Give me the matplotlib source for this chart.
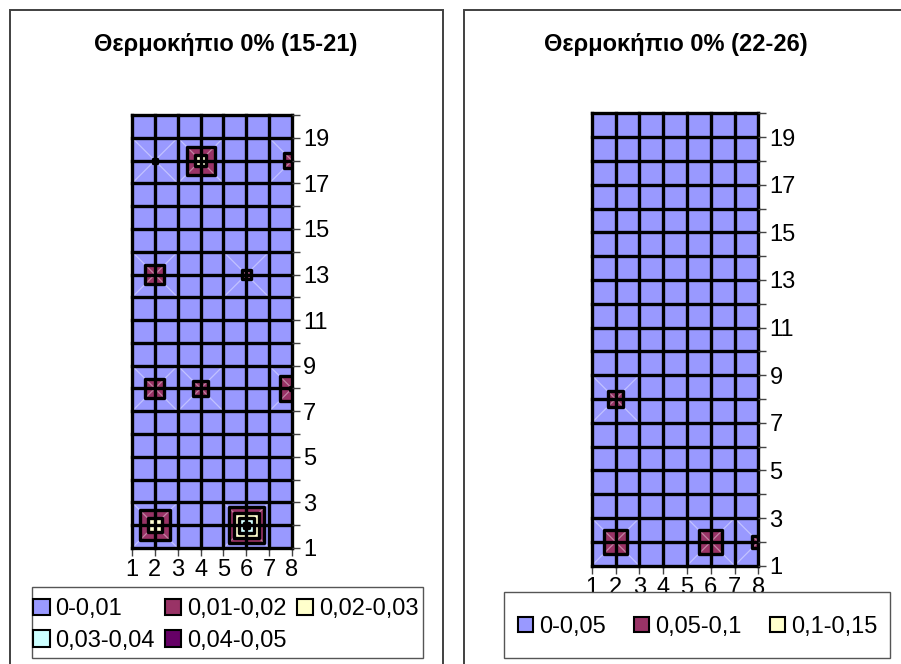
import numpy as np
import matplotlib
matplotlib.use('Agg')
import matplotlib.pyplot as plt
import matplotlib.tri as mtri
from matplotlib.collections import LineCollection
from matplotlib.patches import Rectangle, Patch

plt.rcParams['font.family'] = ['Liberation Sans', 'DejaVu Sans']

# grid of the surface (columns 1..8, rows 1..20)
x_vals = np.arange(1, 9)
y_vals = np.arange(1, 21)

# left chart: non-zero nodes, every other node is 0
left_x = [2, 4, 8, 2, 6, 2, 4, 8, 2, 6]
left_y = [18, 18, 18, 13, 13, 8, 8, 8, 2, 2]
left_v = [0.011, 0.026, 0.015, 0.017, 0.0125, 0.017, 0.015, 0.0215, 0.029, 0.045]
left_levels = [0, 0.01, 0.02, 0.03, 0.04, 0.05]
left_labels = ['0-0,01', '0,01-0,02', '0,02-0,03', '0,03-0,04', '0,04-0,05']

# right chart
right_x = [2, 2, 6, 8]
right_y = [8, 2, 2, 2]
right_v = [0.075, 0.098, 0.098, 0.068]
right_levels = [0, 0.05, 0.1, 0.15]
right_labels = ['0-0,05', '0,05-0,1', '0,1-0,15']

band_colors = ['#9999FF', '#993366', '#FFFFCC', '#CCFFFF', '#660066']

W, H = 901, 664


def grid_values(px, py, pv):
    z = np.zeros((len(y_vals), len(x_vals)))
    for a, b, v in zip(px, py, pv):
        z[b - 1, a - 1] = v
    return z


def excel_tri(z):
    # each cell split in two along the diagonal with the higher values
    ny, nx = z.shape
    X, Y = np.meshgrid(x_vals, y_vals)
    zf = z.ravel()
    tris, diags = [], []
    for j in range(ny - 1):
        for i in range(nx - 1):
            a = j * nx + i
            b = a + 1
            c = a + nx + 1
            d = a + nx
            if zf[a] + zf[c] >= zf[b] + zf[d]:
                tris += [[a, b, c], [a, c, d]]
                e = (a, c)
            else:
                tris += [[a, b, d], [b, c, d]]
                e = (b, d)
            if max(zf[a], zf[b], zf[c], zf[d]) > 0:
                diags.append(e)
    tri = mtri.Triangulation(X.ravel(), Y.ravel(), tris)
    segs = [[(tri.x[p], tri.y[p]), (tri.x[q], tri.y[q])] for p, q in diags]
    return tri, segs


def draw_panel(rect, z, levels, colors):
    ax = fig.add_axes([rect[0] / W, 1 - (rect[1] + rect[3]) / H, rect[2] / W, rect[3] / H])
    tri, segs = excel_tri(z)
    ax.tricontourf(tri, z.ravel(), levels=levels, colors=colors, zorder=1)
    ax.add_collection(LineCollection(segs, colors='white', alpha=0.4, linewidths=0.9, zorder=2))
    ax.tricontour(tri, z.ravel(), levels=levels[1:], colors='k', linewidths=2.4, zorder=3)
    ax.set_xlim(1, 8)
    ax.set_ylim(1, 20)
    ax.set_xticks(x_vals)
    ax.set_yticks(y_vals)
    ax.set_xticklabels([str(v) for v in x_vals])
    ax.set_yticklabels([str(v) if v % 2 else '' for v in y_vals])
    ax.set_axisbelow(False)
    ax.grid(True, color='black', linewidth=2.4, solid_capstyle='projecting')
    for gl in ax.get_xgridlines() + ax.get_ygridlines():
        gl.set_clip_on(False)
    ax.yaxis.tick_right()
    ax.tick_params(axis='both', direction='out', length=6, width=1, color='#444444',
                   labelsize=17, pad=2)
    for s in ax.spines.values():
        s.set_visible(False)
    return ax


fig = plt.figure(figsize=(W / 100, H / 100), dpi=100)

# chart borders
fig.add_artist(Rectangle((10 / W, -0.1), 433 / W, 1.1 - 10 / H, transform=fig.transFigure,
                         fill=False, edgecolor='#404040', linewidth=1.4, zorder=0))
fig.add_artist(Rectangle((464 / W, -0.1), 0.6, 1.1 - 10 / H, transform=fig.transFigure,
                         fill=False, edgecolor='#404040', linewidth=1.4, zorder=0))

draw_panel((132, 115, 160, 433), grid_values(left_x, left_y, left_v), left_levels, band_colors)
draw_panel((591.7, 113.3, 166.6, 452.4), grid_values(right_x, right_y, right_v), right_levels,
           band_colors[:3])

fig.text(226 / W, 1 - 45 / H, 'Θερμοκήπιο 0% (15-21)', ha='center', va='center',
         fontsize=17, fontweight='bold')
fig.text(676 / W, 1 - 45 / H, 'Θερμοκήπιο 0% (22-26)', ha='center', va='center',
         fontsize=17, fontweight='bold')

# legend boxes
fig.add_artist(Rectangle((31.7 / W, 6 / H), 391.6 / W, 71.3 / H, transform=fig.transFigure,
                         facecolor='white', edgecolor='#555555', linewidth=1.0, zorder=4))
fig.add_artist(Rectangle((504.3 / W, 5.7 / H), 385.7 / W, 66 / H, transform=fig.transFigure,
                         facecolor='white', edgecolor='#555555', linewidth=1.0, zorder=4))

lh = [Patch(facecolor=c, edgecolor='black', linewidth=1.5, label=l)
      for c, l in zip(band_colors, left_labels)]
order = [0, 3, 1, 4, 2]
leg1 = fig.legend([lh[i] for i in order], [left_labels[i] for i in order], ncol=3,
                  loc='center left', bbox_to_anchor=(33 / W, 1 - 625 / H), frameon=False,
                  fontsize=17, handlelength=0.7, handleheight=0.7, handletextpad=0.25,
                  columnspacing=0.42, labelspacing=0.4, borderpad=0, borderaxespad=0)
leg1.set_zorder(6)

rh = [Patch(facecolor=c, edgecolor='black', linewidth=1.5, label=l)
      for c, l in zip(band_colors[:3], right_labels)]
leg2 = fig.legend(handles=rh, ncol=3, loc='center left', bbox_to_anchor=(518 / W, 1 - 626.7 / H),
                  frameon=False, fontsize=17, handlelength=0.65, handleheight=0.65,
                  handletextpad=0.25, columnspacing=1.19, borderpad=0, borderaxespad=0)
leg2.set_zorder(6)

fig.savefig('out.png', dpi=100)
